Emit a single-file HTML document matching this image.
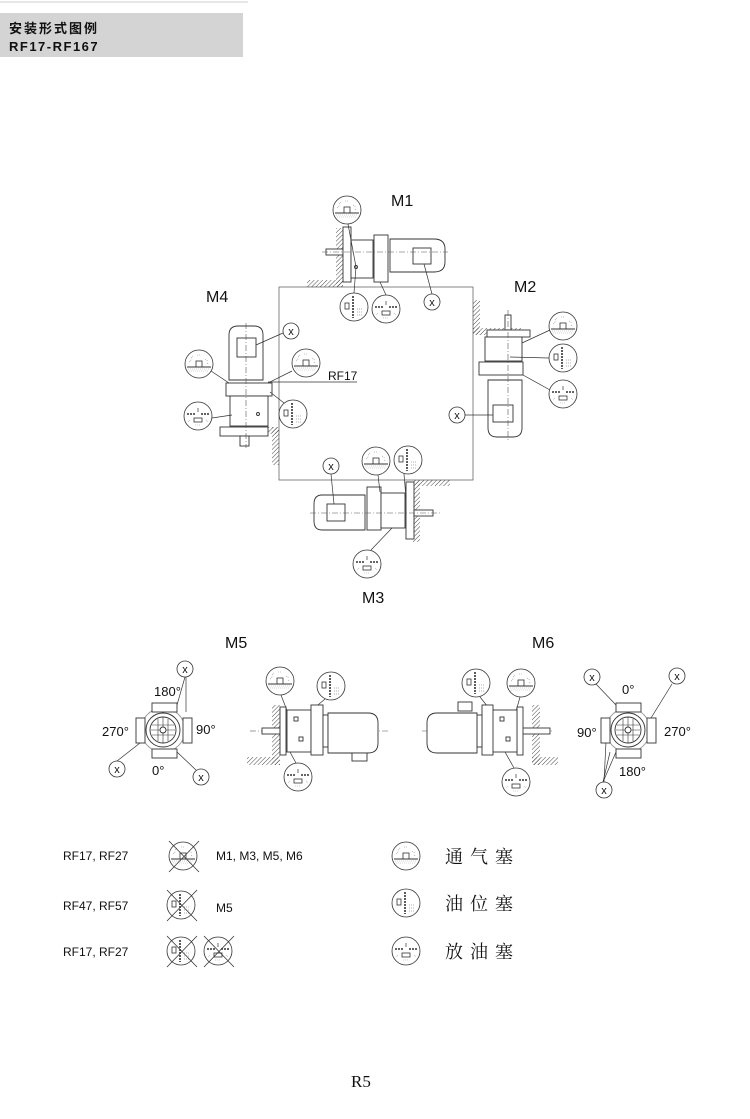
<!DOCTYPE html>
<html><head><meta charset="utf-8"><style>
html,body{margin:0;padding:0;background:#fff;width:750px;height:1119px;overflow:hidden}
svg{display:block}
.t{font-family:"Liberation Sans",sans-serif;fill:#111}
.c{font-family:"Liberation Serif","Noto Serif CJK SC",serif;fill:#111}
</style></head><body>
<svg width="750" height="1119" viewBox="0 0 750 1119" xmlns="http://www.w3.org/2000/svg">
<defs>
<pattern id="h" width="3" height="3" patternUnits="userSpaceOnUse" patternTransform="rotate(45)">
<line x1="0" y1="0" x2="0" y2="3" stroke="#333" stroke-width="0.9"/></pattern>
<g id="vent">
<circle r="14" fill="#fff" stroke="#333" stroke-width="0.8"/>
<line x1="-12" y1="3" x2="12" y2="3" stroke="#333" stroke-width="1"/>
<rect x="-3" y="-3" width="6" height="6" fill="none" stroke="#333" stroke-width="0.8"/>
<path d="M-10 -2 l3 -3 M-8 -6 l2 -2 M6 -5 l3 2 M8 -1 l2 1 M-2 -9 h4" stroke="#888" stroke-width="0.6" fill="none" stroke-dasharray="1 1"/>
<path d="M-11 5 h22 M-10 7 h20" stroke="#aaa" stroke-width="0.6" stroke-dasharray="1 1"/>
</g>
<g id="lvl">
<circle r="14" fill="#fff" stroke="#333" stroke-width="0.8"/>
<rect x="-9" y="-4" width="4" height="6" fill="none" stroke="#333" stroke-width="0.8"/>
<line x1="-1" y1="-11" x2="-1" y2="11" stroke="#333" stroke-width="1.6" stroke-dasharray="2 1"/>
<path d="M3 2 h6 M3 5 h6 M3 8 h5" stroke="#999" stroke-width="0.7" stroke-dasharray="1 1"/>
</g>
<g id="drn">
<circle r="14" fill="#fff" stroke="#333" stroke-width="0.8"/>
<path d="M-11 -2 h8 M3 -2 h8" stroke="#333" stroke-width="1.6" stroke-dasharray="2 1"/>
<line x1="0" y1="-8" x2="0" y2="-4" stroke="#333" stroke-width="0.7"/>
<rect x="-4" y="2" width="8" height="4" fill="none" stroke="#333" stroke-width="0.8"/>
<path d="M-8 4 l-2 2 M8 4 l2 2 M-3 9 h6" stroke="#999" stroke-width="0.6" stroke-dasharray="1 1"/>
</g>
<g id="x">
<circle r="8" fill="#fff" stroke="#333" stroke-width="0.8"/>
<text x="0" y="4" text-anchor="middle" font-family="Liberation Sans,sans-serif" font-size="11" fill="#111">x</text>
</g>
</defs>

<!-- header -->
<line x1="0" y1="2" x2="248" y2="2" stroke="#ccc" stroke-width="1"/>
<rect x="0" y="13" width="243" height="44" fill="#d4d4d4"/>
<text x="9" y="33" font-family="Liberation Sans,'Noto Sans CJK SC',sans-serif" font-size="13" font-weight="bold" letter-spacing="2" fill="#111">安装形式图例</text>
<text x="9" y="51" class="t" font-size="13" font-weight="bold" letter-spacing="1.5">RF17-RF167</text>

<!-- big square -->
<rect x="279" y="287" width="194" height="193" fill="none" stroke="#666" stroke-width="0.8"/>

<g fill="#fff" stroke="#333" stroke-width="0.9">
<!-- M1 -->
<rect x="336" y="228" width="7" height="59" fill="url(#h)" stroke="none"/>
<rect x="307" y="280" width="36" height="7" fill="url(#h)" stroke="none"/>
<rect x="326" y="249" width="17" height="6"/>
<rect x="343" y="227" width="8" height="55"/>
<rect x="351" y="240" width="22" height="38"/>
<rect x="374" y="235" width="14" height="47"/>
<path d="M390 239 h44 q11 0 11 10 v13 q0 10 -11 10 h-44 z"/>
<rect x="413" y="248" width="18" height="16"/>
<circle cx="356" cy="267" r="1.5"/>
<!-- M2 -->
<rect x="473" y="300" width="7" height="35" fill="url(#h)" stroke="none"/>
<rect x="473" y="328" width="48" height="7" fill="url(#h)" stroke="none"/>
<rect x="505" y="315" width="6" height="15"/>
<rect x="487" y="330" width="43" height="7"/>
<rect x="485" y="337" width="37" height="24"/>
<rect x="479" y="362" width="44" height="13"/>
<path d="M488 380 h34 v48 q0 9 -9 9 h-16 q-9 0 -9 -9 z"/>
<rect x="493" y="405" width="20" height="17"/>
<!-- M3 -->
<rect x="413" y="480" width="7" height="62" fill="url(#h)" stroke="none"/>
<rect x="415" y="480" width="35" height="6" fill="url(#h)" stroke="none"/>
<path d="M365 495 h-43 q-8 0 -8 9 v17 q0 9 8 9 h43 z"/>
<rect x="327" y="504" width="18" height="17"/>
<rect x="367" y="487" width="14" height="43"/>
<rect x="381" y="493" width="24" height="35"/>
<rect x="406" y="482" width="8" height="57"/>
<rect x="414" y="510" width="19" height="6"/>
<!-- M4 -->
<rect x="272" y="427" width="7" height="38" fill="url(#h)" stroke="none"/>
<rect x="262" y="427" width="17" height="7" fill="url(#h)" stroke="none"/>
<path d="M229 380 v-45 q0 -9 9 -9 h16 q9 0 9 9 v45 z"/>
<rect x="237" y="338" width="19" height="19"/>
<rect x="226" y="383" width="46" height="13"/>
<rect x="230" y="396" width="38" height="30"/>
<rect x="220" y="427" width="48" height="9"/>
<rect x="240" y="436" width="9" height="10"/>
<circle cx="258" cy="414" r="1.5"/>
</g>
<!-- center lines -->
<g stroke="#555" stroke-width="0.6" stroke-dasharray="6 2 1 2">
<line x1="322" y1="252" x2="448" y2="252"/>
<line x1="508" y1="310" x2="508" y2="440"/>
<line x1="310" y1="513" x2="440" y2="513"/>
<line x1="246" y1="323" x2="246" y2="448"/>
<line x1="250" y1="731" x2="390" y2="731"/>
<line x1="422" y1="731" x2="552" y2="731"/>
</g>
<text x="328" y="380" class="t" font-size="12">RF17</text>
<line x1="268" y1="382" x2="357" y2="382" stroke="#333" stroke-width="0.8"/>

<!-- leaders -->
<g stroke="#333" stroke-width="0.7" fill="none">
<line x1="348" y1="224" x2="356" y2="267"/><line x1="354" y1="293" x2="356" y2="267"/>
<line x1="386" y1="295" x2="380" y2="282"/><line x1="432" y1="294" x2="424" y2="264"/>
<line x1="550" y1="330" x2="522" y2="343"/><line x1="549" y1="358" x2="510" y2="357"/>
<line x1="550" y1="390" x2="523" y2="375"/><line x1="465" y1="415" x2="493" y2="415"/>
<line x1="378" y1="475" x2="380" y2="492"/><line x1="404" y1="474" x2="406" y2="498"/>
<line x1="371" y1="550" x2="392" y2="528"/><line x1="331" y1="474" x2="334" y2="504"/>
<line x1="211" y1="371" x2="229" y2="383"/><line x1="292" y1="371" x2="268" y2="383"/>
<line x1="284" y1="403" x2="270" y2="392"/><line x1="212" y1="418" x2="232" y2="415"/>
<line x1="283" y1="333" x2="256" y2="345"/>
<line x1="185" y1="677" x2="177" y2="705"/><line x1="186" y1="677" x2="186" y2="712"/>
<line x1="117" y1="761" x2="140" y2="743"/><line x1="196" y1="770" x2="177" y2="752"/>
<line x1="281" y1="695" x2="288" y2="713"/><line x1="325" y1="699" x2="312" y2="710"/>
<line x1="296" y1="763" x2="290" y2="752"/>
<line x1="596" y1="684" x2="616" y2="705"/><line x1="672" y1="684" x2="651" y2="718"/>
<line x1="603" y1="782" x2="610" y2="752"/><line x1="603" y1="782" x2="616" y2="752"/><line x1="604" y1="782" x2="606" y2="742"/>
<line x1="480" y1="697" x2="500" y2="722"/><line x1="520" y1="697" x2="515" y2="715"/>
<line x1="514" y1="768" x2="505" y2="752"/>
</g>

<use href="#vent" transform="translate(347,210)"/>
<use href="#lvl" transform="translate(354,307)"/>
<use href="#drn" transform="translate(386,309)"/>
<use href="#x" transform="translate(432,302)"/>
<use href="#vent" transform="translate(563,326)"/>
<use href="#lvl" transform="translate(563,358)"/>
<use href="#drn" transform="translate(563,394)"/>
<use href="#x" transform="translate(457,415)"/>
<use href="#vent" transform="translate(376,461)"/>
<use href="#lvl" transform="translate(408,460)"/>
<use href="#drn" transform="translate(367,564)"/>
<use href="#x" transform="translate(331,466)"/>
<use href="#vent" transform="translate(199,364)"/>
<use href="#vent" transform="translate(306,363)"/>
<use href="#lvl" transform="translate(293,414)"/>
<use href="#drn" transform="translate(198,416)"/>
<use href="#x" transform="translate(291,331)"/>

<g class="t" font-size="16">
<text x="391" y="206">M1</text><text x="514" y="292">M2</text>
<text x="362" y="603">M3</text><text x="206" y="302">M4</text>
<text x="225" y="648">M5</text><text x="532" y="648">M6</text>
</g>

<!-- M5 end view -->
<g fill="#fff" stroke="#333" stroke-width="0.9">
<circle cx="163" cy="730" r="22" stroke="#999"/>
<rect x="152" y="703" width="25" height="9"/><rect x="152" y="749" width="25" height="9"/>
<rect x="136" y="718" width="9" height="25"/><rect x="183" y="718" width="9" height="25"/>
<circle cx="163" cy="730" r="17"/>
<circle cx="163" cy="730" r="13"/>
<path d="M152 725 h22 M151 730 h24 M152 735 h22 M158 719 v22 M163 717 v26 M168 719 v22" stroke-width="0.6"/>
<circle cx="163" cy="730" r="3"/>
</g>
<!-- M6 end view -->
<g fill="#fff" stroke="#333" stroke-width="0.9">
<circle cx="628" cy="730" r="22" stroke="#999"/>
<rect x="616" y="703" width="25" height="9"/><rect x="616" y="749" width="25" height="9"/>
<rect x="601" y="718" width="9" height="25"/><rect x="647" y="718" width="9" height="25"/>
<circle cx="628" cy="730" r="17"/>
<circle cx="628" cy="730" r="13"/>
<path d="M617 725 h22 M616 730 h24 M617 735 h22 M623 719 v22 M628 717 v26 M633 719 v22" stroke-width="0.6"/>
<circle cx="628" cy="730" r="3"/>
</g>
<g class="t" font-size="13">
<text x="154" y="696">180°</text><text x="102" y="736">270°</text><text x="196" y="734">90°</text><text x="152" y="775">0°</text>
<text x="622" y="694">0°</text><text x="577" y="737">90°</text><text x="664" y="736">270°</text><text x="619" y="776">180°</text>
</g>
<use href="#x" transform="translate(185,669)"/><use href="#x" transform="translate(117,769)"/><use href="#x" transform="translate(201,777)"/>
<use href="#x" transform="translate(592,677)"/><use href="#x" transform="translate(677,676)"/><use href="#x" transform="translate(604,790)"/>

<!-- M5 side view -->
<g fill="#fff" stroke="#333" stroke-width="0.9">
<rect x="272" y="705" width="8" height="60" fill="url(#h)" stroke="none"/>
<rect x="247" y="757" width="33" height="8" fill="url(#h)" stroke="none"/>
<rect x="262" y="728" width="18" height="6"/>
<rect x="280" y="707" width="6" height="48"/>
<rect x="287" y="710" width="24" height="42"/>
<rect x="311" y="705" width="12" height="50"/>
<rect x="323" y="715" width="5" height="32"/>
<path d="M328 713 h40 q10 0 10 10 v20 q0 10 -10 10 h-40 z"/>
<rect x="352" y="753" width="15" height="8"/>
<rect x="294" y="717" width="4" height="4"/><rect x="299" y="737" width="4" height="4"/>
</g>
<!-- M6 side view -->
<g fill="#fff" stroke="#333" stroke-width="0.9">
<rect x="532" y="705" width="8" height="60" fill="url(#h)" stroke="none"/>
<rect x="532" y="757" width="26" height="8" fill="url(#h)" stroke="none"/>
<rect x="520" y="728" width="30" height="6"/>
<rect x="517" y="707" width="6" height="48"/>
<rect x="492" y="710" width="25" height="42"/>
<rect x="482" y="705" width="11" height="50"/>
<rect x="477" y="715" width="5" height="32"/>
<path d="M477 713 h-40 q-10 0 -10 10 v20 q0 10 10 10 h40 z"/>
<rect x="458" y="702" width="14" height="9"/>
<rect x="500" y="717" width="4" height="4"/><rect x="506" y="737" width="4" height="4"/>
</g>
<use href="#vent" transform="translate(280,681)"/><use href="#lvl" transform="translate(331,686)"/><use href="#drn" transform="translate(298,777)"/>
<use href="#lvl" transform="translate(476,683)"/><use href="#vent" transform="translate(521,683)"/><use href="#drn" transform="translate(516,782)"/>

<!-- legend -->
<g class="t" font-size="12">
<text x="63" y="860">RF17, RF27</text>
<text x="63" y="910">RF47, RF57</text>
<text x="63" y="956">RF17, RF27</text>
<text x="216" y="860">M1, M3, M5, M6</text>
<text x="216" y="912">M5</text>
</g>
<use href="#vent" transform="translate(183,856)"/>
<use href="#lvl" transform="translate(181,905)"/>
<use href="#lvl" transform="translate(181,951)"/>
<use href="#drn" transform="translate(218,951)"/>
<g stroke="#333" stroke-width="0.8">
<line x1="169" y1="841" x2="199" y2="872"/><line x1="199" y1="841" x2="169" y2="872"/>
<line x1="167" y1="890" x2="197" y2="921"/><line x1="197" y1="890" x2="167" y2="921"/>
<line x1="167" y1="936" x2="197" y2="967"/><line x1="197" y1="936" x2="167" y2="967"/>
<line x1="204" y1="936" x2="234" y2="967"/><line x1="234" y1="936" x2="204" y2="967"/>
</g>
<use href="#vent" transform="translate(406,856)"/>
<use href="#lvl" transform="translate(406,903)"/>
<use href="#drn" transform="translate(406,951)"/>
<g class="c" font-size="18" letter-spacing="7">
<text x="445" y="863">通气塞</text>
<text x="445" y="910">油位塞</text>
<text x="445" y="958">放油塞</text>
</g>
<text x="351" y="1087" class="c" font-size="17">R5</text>
</svg>
</body></html>
